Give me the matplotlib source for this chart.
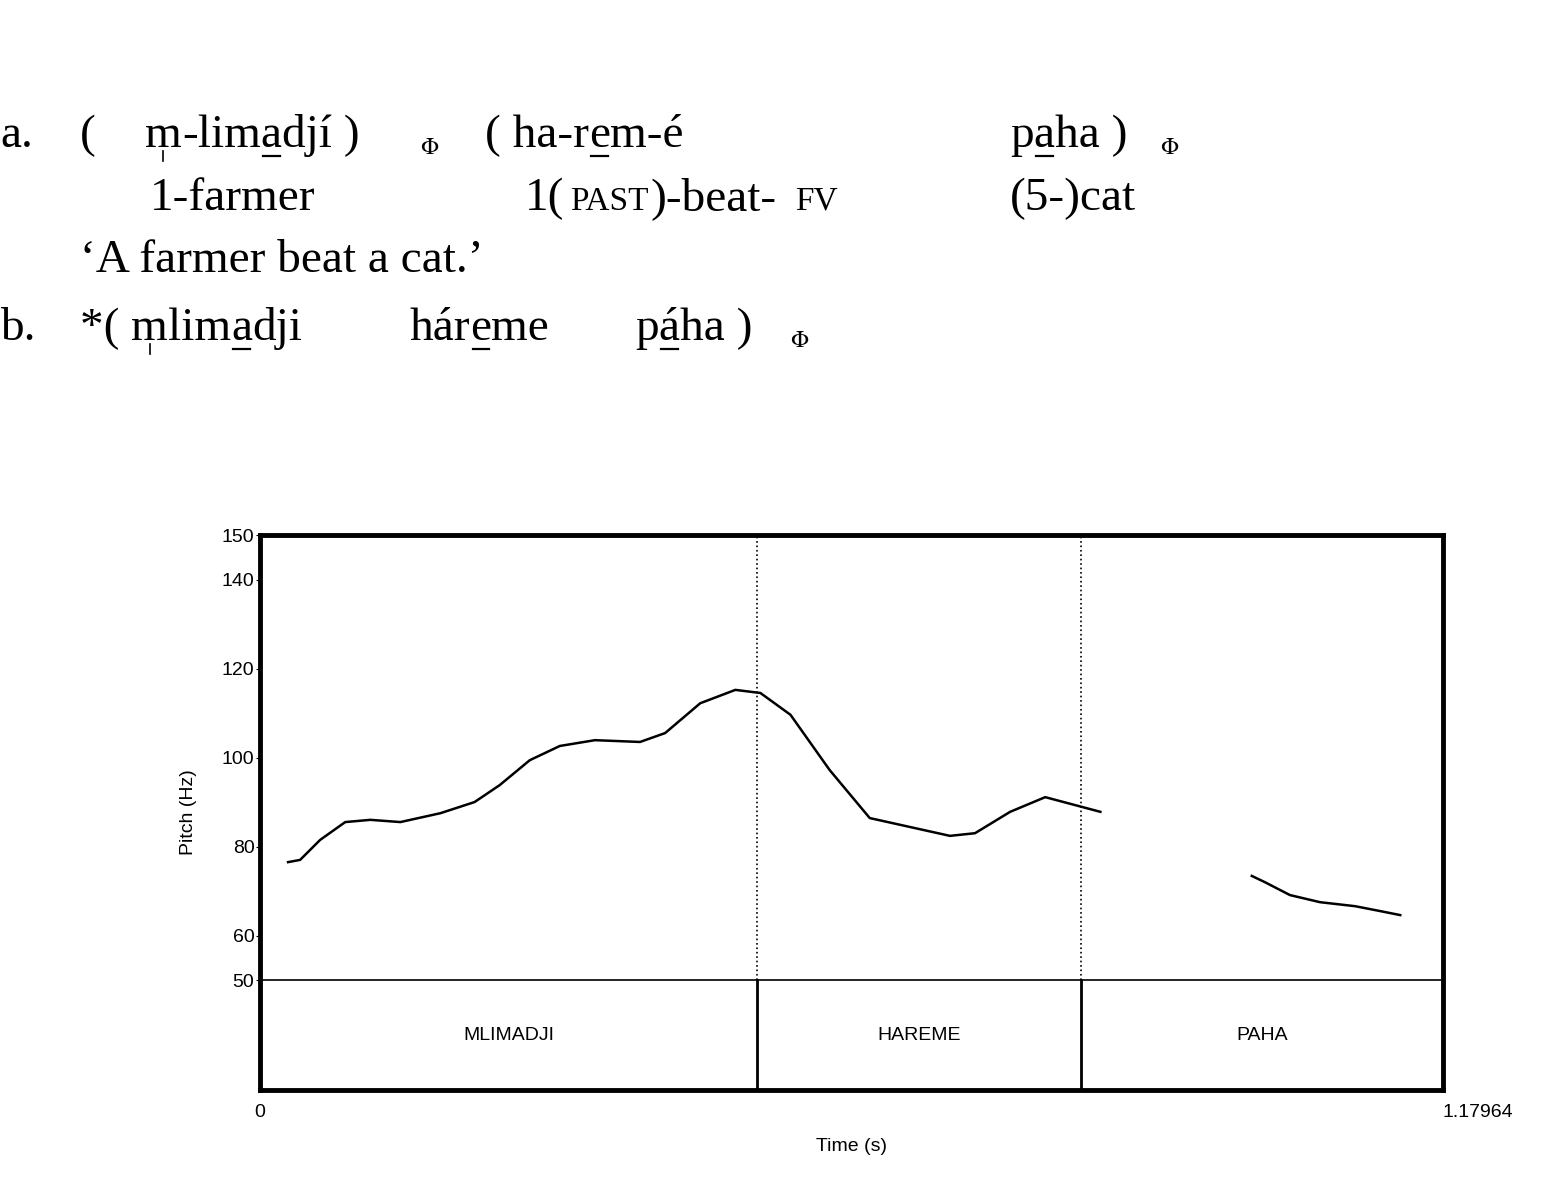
import matplotlib.pyplot as plt

W, H = 1559, 1191
DUR = 1.17964

# pitch track, segment 1 (time s, Hz)
t1 = [0.028, 0.040, 0.060, 0.085, 0.110, 0.140, 0.180, 0.214, 0.239, 0.269,
      0.299, 0.334, 0.379, 0.404, 0.439, 0.474, 0.499, 0.529, 0.568, 0.608,
      0.648, 0.688, 0.713, 0.748, 0.783, 0.813, 0.838]
f1 = [76.5, 77.0, 81.5, 85.5, 86.0, 85.5, 87.5, 90.0, 93.8, 99.4,
      102.6, 103.9, 103.5, 105.5, 112.2, 115.2, 114.5, 109.6, 97.2, 86.4,
      84.4, 82.4, 83.0, 87.8, 91.1, 89.3, 87.8]
# segment 2
t2 = [0.989, 1.002, 1.027, 1.057, 1.092, 1.117, 1.137]
f2 = [73.4, 72.0, 69.1, 67.5, 66.6, 65.5, 64.6]

bounds = [0.0, 0.4956, 0.8187, DUR]
words = ['MLIMADJI', 'HAREME', 'PAHA']
yticks = [50, 60, 80, 100, 120, 140, 150]

fig = plt.figure(figsize=(W / 100, H / 100), dpi=100)
renderer = fig.canvas.get_renderer()
serif = 'Liberation Serif'
big = 34


def txt(x, y, s, size=big):
    return fig.text(x / W, 1 - y / H, s, fontsize=size, family=serif, va='baseline')


def word(x, y, parts):
    # parts: list of (string, mark) ; mark '_' underline, '|' syllabic stroke
    for s, mark in parts:
        t = txt(x, y, s)
        w = t.get_window_extent(renderer).width
        if mark == '_':
            fig.add_artist(plt.Line2D([(x + 2) / W, (x + w - 2) / W],
                                      [1 - (y + 9) / H] * 2, color='black', lw=1.6))
        elif mark == '|':
            fig.add_artist(plt.Line2D([(x + w / 2) / W] * 2,
                                      [1 - (y + 4) / H, 1 - (y + 14) / H],
                                      color='black', lw=1.2))
        x += w


def phi(x, y):
    fig.text(x / W, 1 - y / H, r'$\mathit{\Phi}$', fontsize=17, va='baseline',
             math_fontfamily='stix')

# glosses
txt(0, 147, 'a.')
txt(80, 147, '(')
word(145, 147, [('m', '|'), ('-lim', ''), ('a', '_'), ('dj\u00ed )', '')])
phi(420, 154)
word(485, 147, [('( ha-r', ''), ('e', '_'), ('m-\u00e9', '')])
word(1010, 147, [('p', ''), ('a', '_'), ('ha )', '')])
phi(1160, 154)

txt(150, 210, '1-farmer')
txt(525, 210, '1(')
txt(570, 210, 'PAST', size=24)
txt(650, 210, ')-beat-')
txt(795, 210, 'FV', size=24)
txt(1010, 210, '(5-)cat')

txt(80, 272, '\u2018A farmer beat a cat.\u2019')

txt(0, 340, 'b.')
word(80, 340, [('*( ', ''), ('m', '|'), ('lim', ''), ('a', '_'), ('dji', '')])
word(410, 340, [('h\u00e1r', ''), ('e', '_'), ('me', '')])
word(635, 340, [('p', ''), ('\u00e1', '_'), ('ha )', '')])
phi(790, 347)

# pitch panel
ax = fig.add_axes([260 / W, 1 - 1090 / H, 1183 / W, 555 / H])
ax.set_xlim(0, DUR)
ax.set_ylim(25.3, 150)
ax.plot(t1, f1, color='black', lw=1.8, solid_joinstyle='round')
ax.plot(t2, f2, color='black', lw=1.8, solid_joinstyle='round')
ax.axhline(50, color='black', lw=1.2)
for b in bounds[1:-1]:
    ax.plot([b, b], [50, 150], color='black', lw=1.2, ls=':')
    ax.plot([b, b], [25.3, 50], color='black', lw=2)
for i, w in enumerate(words):
    ax.text((bounds[i] + bounds[i + 1]) / 2, 37.6, w, ha='center', va='center',
            fontsize=14, family='Liberation Sans')
for s in ax.spines.values():
    s.set_linewidth(3.5)
ax.set_yticks(yticks)
ax.set_yticklabels([str(v) for v in yticks], fontsize=14, family='Liberation Sans')
ax.set_xticks([0, DUR])
ax.set_xticklabels(['0', '1.17964'], fontsize=14, family='Liberation Sans')
ax.get_xticklabels()[1].set_ha('left')
ax.tick_params(axis='y', length=3, pad=1)
ax.tick_params(axis='x', length=0, pad=10)
ax.set_xlabel('Time (s)', fontsize=14, family='Liberation Sans', labelpad=12)
ax.set_ylabel('Pitch (Hz)', fontsize=14, family='Liberation Sans', labelpad=18)

fig.savefig('out.png', dpi=100)
